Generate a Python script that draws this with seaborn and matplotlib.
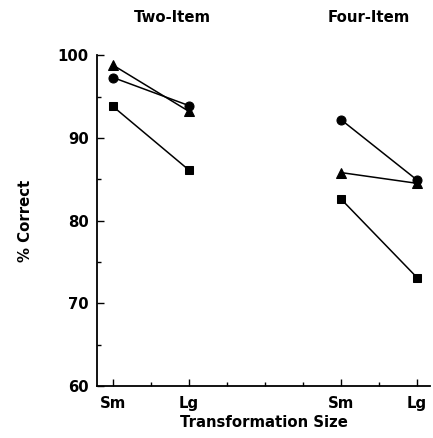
import matplotlib
matplotlib.use("Agg")
import matplotlib.pyplot as plt
import seaborn as sns
import pandas as pd

# Data
groups = ["Two-Item", "Four-Item"]
sizes = ["Sm", "Lg"]
circle_vals = [97.3, 93.9, 92.2, 84.9]
triangle_vals = [98.8, 93.2, 85.8, 84.5]
square_vals = [93.8, 86.1, 82.6, 73.1]
x_positions = [0, 2, 6, 8]
tick_labels = ["Sm", "Lg", "Sm", "Lg"]
y_ticks = [60, 70, 80, 90, 100]

rows = []
for cond, vals in [("circle", circle_vals), ("triangle", triangle_vals), ("square", square_vals)]:
    for i, v in enumerate(vals):
        rows.append({"cond": cond, "group": groups[i // 2], "x": x_positions[i], "pct": v})
df = pd.DataFrame(rows)

sns.set_style("ticks")
plt.rcParams['font.family'] = ['DejaVu Sans']
plt.rcParams.update({"text.color": "black", "axes.labelcolor": "black",
                     "xtick.color": "black", "ytick.color": "black",
                     "axes.edgecolor": "black"})

FS = 10.7
fig = plt.figure(figsize=(4.33, 4.38), dpi=100)
ax = fig.add_axes([0.224, 0.119, 0.769, 0.755])

markers = {"circle": "o", "triangle": "^", "square": "s"}
msize = {"circle": 6.5, "triangle": 7, "square": 6}
for cond in ["square", "triangle", "circle"]:
    for g in groups:
        sub = df[(df.cond == cond) & (df.group == g)]
        sns.lineplot(data=sub, x="x", y="pct", ax=ax, color="black", lw=1.1,
                     marker=markers[cond], markersize=msize[cond], markeredgecolor="black",
                     markerfacecolor="black", legend=False, estimator=None)

ax.set_xlim(-0.42, 8.34)
ax.set_ylim(60, 100)
ax.set_xticks(x_positions)
ax.set_xticklabels(tick_labels, fontsize=FS, fontweight="bold")
ax.set_xticks([1, 3, 4, 5, 7], minor=True)
ax.set_yticks(y_ticks)
ax.set_yticklabels([str(t) for t in y_ticks], fontsize=FS, fontweight="bold")
ax.set_yticks([65, 75, 85, 95], minor=True)
ax.tick_params(axis="both", which="major", direction="in", length=5, width=1, pad=6)
ax.tick_params(axis="both", which="minor", direction="in", length=3, width=1)
ax.tick_params(axis="x", which="major", pad=7)
ax.set_xlabel("Transformation Size", fontsize=FS, fontweight="bold", labelpad=3)
ax.set_ylabel("% Correct", fontsize=FS, fontweight="bold", labelpad=18)
for s in ["top", "right"]:
    ax.spines[s].set_visible(False)
ax.spines["left"].set_linewidth(1.3)
ax.spines["bottom"].set_linewidth(1.3)

fig.text(172 / 433, 1 - 18 / 438, "Two-Item", ha="center", va="center", fontsize=FS, fontweight="bold")
fig.text(369 / 433, 1 - 18 / 438, "Four-Item", ha="center", va="center", fontsize=FS, fontweight="bold")

fig.savefig("out.png", dpi=100)
